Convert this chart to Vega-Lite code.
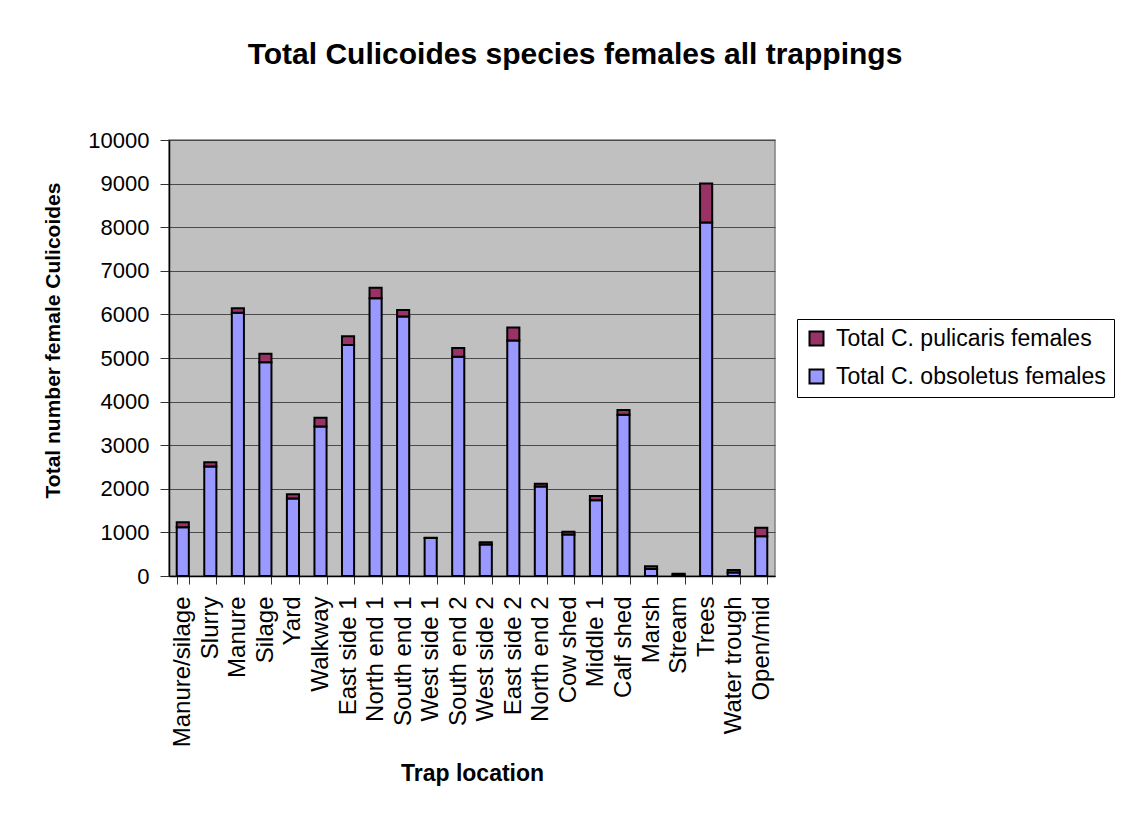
{
  "$schema": "https://vega.github.io/schema/vega-lite/v6.json",
  "autosize": {"type": "none"},
  "width": 606,
  "height": 436,
  "padding": {"left": 169, "top": 140, "right": 356, "bottom": 238},
  "background": "white",
  "title": {
    "text": "Total Culicoides species females all trappings",
    "font": "Liberation Sans",
    "fontSize": 30,
    "fontWeight": "bold",
    "color": "black",
    "anchor": "middle",
    "dx": 103,
    "offset": 59
  },
  "data": {
    "values": [
      {"location": "Manure/silage", "series": "Total C. obsoletus females", "count": 1120},
      {"location": "Manure/silage", "series": "Total C. pulicaris females", "count": 110},
      {"location": "Slurry", "series": "Total C. obsoletus females", "count": 2510},
      {"location": "Slurry", "series": "Total C. pulicaris females", "count": 100},
      {"location": "Manure", "series": "Total C. obsoletus females", "count": 6040},
      {"location": "Manure", "series": "Total C. pulicaris females", "count": 100},
      {"location": "Silage", "series": "Total C. obsoletus females", "count": 4900},
      {"location": "Silage", "series": "Total C. pulicaris females", "count": 195},
      {"location": "Yard", "series": "Total C. obsoletus females", "count": 1780},
      {"location": "Yard", "series": "Total C. pulicaris females", "count": 95},
      {"location": "Walkway", "series": "Total C. obsoletus females", "count": 3430},
      {"location": "Walkway", "series": "Total C. pulicaris females", "count": 200},
      {"location": "East side 1", "series": "Total C. obsoletus females", "count": 5300},
      {"location": "East side 1", "series": "Total C. pulicaris females", "count": 200},
      {"location": "North end 1", "series": "Total C. obsoletus females", "count": 6370},
      {"location": "North end 1", "series": "Total C. pulicaris females", "count": 240},
      {"location": "South end 1", "series": "Total C. obsoletus females", "count": 5950},
      {"location": "South end 1", "series": "Total C. pulicaris females", "count": 150},
      {"location": "West side 1", "series": "Total C. obsoletus females", "count": 870},
      {"location": "West side 1", "series": "Total C. pulicaris females", "count": 10},
      {"location": "South end 2", "series": "Total C. obsoletus females", "count": 5030},
      {"location": "South end 2", "series": "Total C. pulicaris females", "count": 200},
      {"location": "West side 2", "series": "Total C. obsoletus females", "count": 720},
      {"location": "West side 2", "series": "Total C. pulicaris females", "count": 55},
      {"location": "East side 2", "series": "Total C. obsoletus females", "count": 5400},
      {"location": "East side 2", "series": "Total C. pulicaris females", "count": 300},
      {"location": "North end 2", "series": "Total C. obsoletus females", "count": 2050},
      {"location": "North end 2", "series": "Total C. pulicaris females", "count": 65},
      {"location": "Cow shed", "series": "Total C. obsoletus females", "count": 950},
      {"location": "Cow shed", "series": "Total C. pulicaris females", "count": 65},
      {"location": "Middle 1", "series": "Total C. obsoletus females", "count": 1740},
      {"location": "Middle 1", "series": "Total C. pulicaris females", "count": 95},
      {"location": "Calf shed", "series": "Total C. obsoletus females", "count": 3700},
      {"location": "Calf shed", "series": "Total C. pulicaris females", "count": 105},
      {"location": "Marsh", "series": "Total C. obsoletus females", "count": 160},
      {"location": "Marsh", "series": "Total C. pulicaris females", "count": 65},
      {"location": "Stream", "series": "Total C. obsoletus females", "count": 30},
      {"location": "Stream", "series": "Total C. pulicaris females", "count": 20},
      {"location": "Trees", "series": "Total C. obsoletus females", "count": 8110},
      {"location": "Trees", "series": "Total C. pulicaris females", "count": 890},
      {"location": "Water trough", "series": "Total C. obsoletus females", "count": 80},
      {"location": "Water trough", "series": "Total C. pulicaris females", "count": 55},
      {"location": "Open/mid", "series": "Total C. obsoletus females", "count": 910},
      {"location": "Open/mid", "series": "Total C. pulicaris females", "count": 195}
    ]
  },
  "mark": {"type": "bar", "stroke": "black", "strokeWidth": 2, "strokeJoin": "miter"},
  "encoding": {
    "x": {
      "field": "location",
      "type": "nominal",
      "sort": null,
      "scale": {"paddingInner": 0.56, "paddingOuter": 0.28},
      "axis": {
        "title": "Trap location",
        "titleFont": "Liberation Sans",
        "titleFontSize": 23,
        "titleFontWeight": "bold",
        "titleColor": "black",
        "titlePadding": 16,
        "labelAngle": -90,
        "labelFont": "Liberation Sans",
        "labelFontSize": 24,
        "labelColor": "black",
        "labelPadding": 12,
        "tickBand": "extent",
        "tickColor": "#333333",
        "tickSize": 8,
        "domainColor": "black",
        "domainWidth": 1.5
      }
    },
    "y": {
      "field": "count",
      "type": "quantitative",
      "stack": "zero",
      "scale": {"domain": [0, 10000], "nice": false},
      "axis": {
        "title": "Total number female Culicoides",
        "titleFont": "Liberation Sans",
        "titleFontSize": 21,
        "titleFontWeight": "bold",
        "titleColor": "black",
        "titlePadding": 24,
        "titleY": 200,
        "values": [0, 1000, 2000, 3000, 4000, 5000, 6000, 7000, 8000, 9000, 10000],
        "format": "d",
        "labelFont": "Liberation Sans",
        "labelFontSize": 22,
        "labelColor": "black",
        "labelPadding": 11,
        "tickColor": "#333333",
        "tickSize": 9,
        "domainColor": "black",
        "domainWidth": 1.5,
        "grid": true,
        "gridColor": "#4a4a4a",
        "gridWidth": 1
      }
    },
    "color": {
      "field": "series",
      "type": "nominal",
      "scale": {
        "domain": ["Total C. pulicaris females", "Total C. obsoletus females"],
        "range": ["#993366", "#9999FF"]
      },
      "legend": {
        "title": null,
        "orient": "none",
        "legendX": 628,
        "legendY": 179,
        "strokeColor": "black",
        "padding": 8,
        "symbolType": "square",
        "symbolSize": 196,
        "symbolStrokeColor": "black",
        "symbolStrokeWidth": 2,
        "symbolOpacity": 1,
        "labelFont": "Liberation Sans",
        "labelFontSize": 23,
        "labelColor": "black",
        "labelLimit": 400,
        "labelOffset": 8,
        "rowPadding": 14
      }
    },
    "order": {"field": "series", "sort": "ascending"}
  },
  "config": {
    "view": {"fill": "#C0C0C0", "stroke": "#808080", "strokeWidth": 1.5}
  }
}
